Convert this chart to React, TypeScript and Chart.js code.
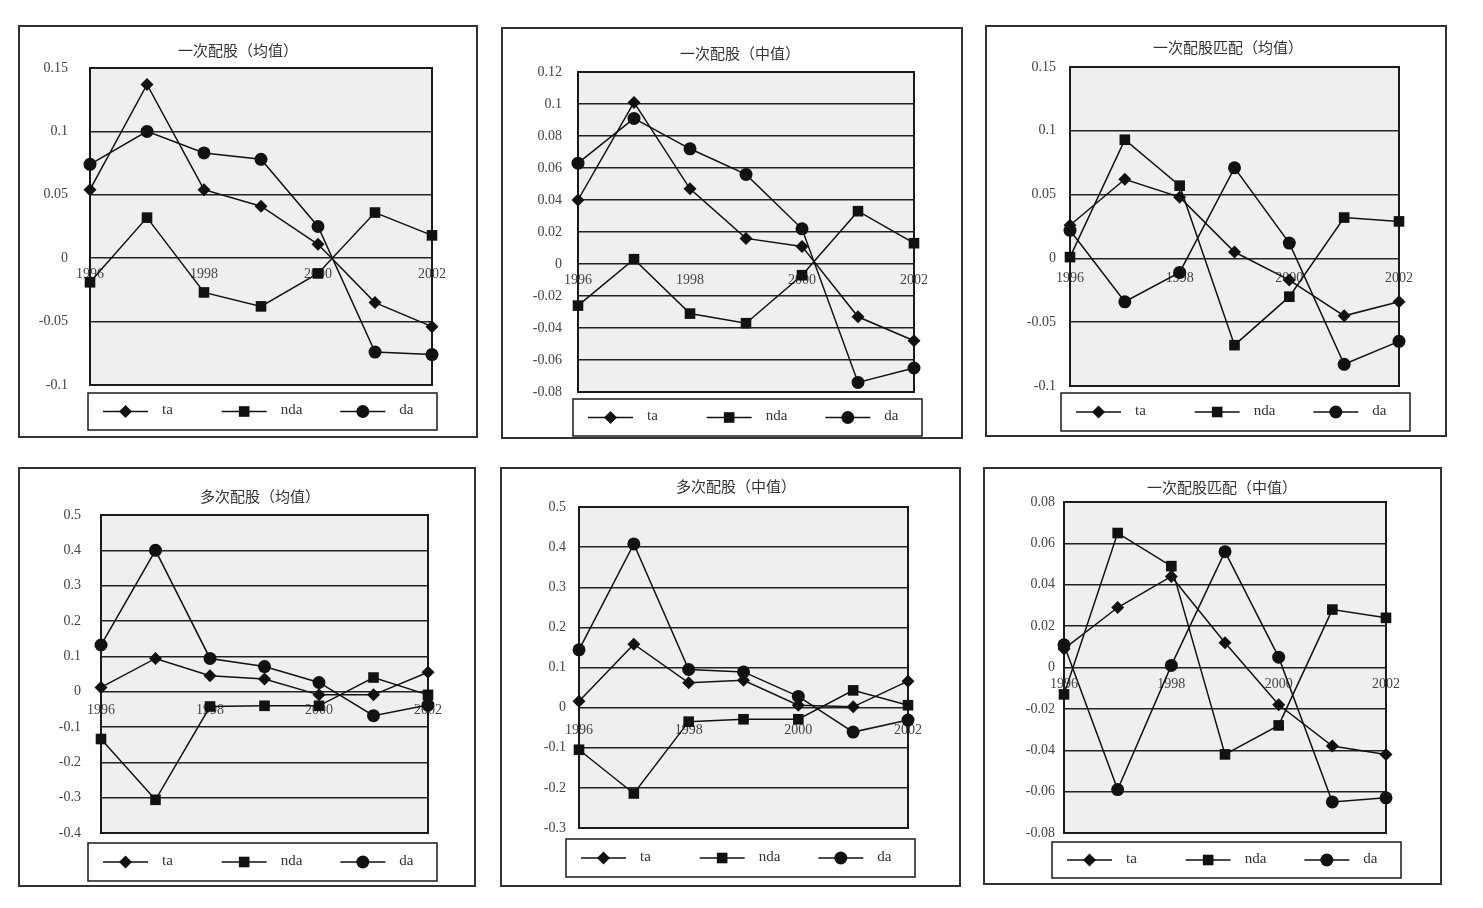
import React, { useEffect, useRef } from 'react';
import { Chart, registerables } from 'chart.js';

Chart.register(...registerables);

// ---------- data ----------
const years = ['1996', '1997', '1998', '1999', '2000', '2001', '2002'];
const seriesNames = ['ta', 'nda', 'da'];

const p1Title = '一次配股（均值）';
const p1Ta = [0.054, 0.137, 0.054, 0.041, 0.011, -0.035, -0.054];
const p1Nda = [-0.019, 0.032, -0.027, -0.038, -0.012, 0.036, 0.018];
const p1Da = [0.074, 0.1, 0.083, 0.078, 0.025, -0.074, -0.076];
const p1Axis = [-0.1, 0.15, 0.05];

const p2Title = '一次配股（中值）';
const p2Ta = [0.04, 0.101, 0.047, 0.016, 0.011, -0.033, -0.048];
const p2Nda = [-0.026, 0.003, -0.031, -0.037, -0.007, 0.033, 0.013];
const p2Da = [0.063, 0.091, 0.072, 0.056, 0.022, -0.074, -0.065];
const p2Axis = [-0.08, 0.12, 0.02];

const p3Title = '一次配股匹配（均值）';
const p3Ta = [0.026, 0.062, 0.048, 0.005, -0.017, -0.045, -0.034];
const p3Nda = [0.001, 0.093, 0.057, -0.068, -0.03, 0.032, 0.029];
const p3Da = [0.022, -0.034, -0.011, 0.071, 0.012, -0.083, -0.065];
const p3Axis = [-0.1, 0.15, 0.05];

const p4Title = '多次配股（均值）';
const p4Ta = [0.012, 0.094, 0.045, 0.036, -0.009, -0.009, 0.055];
const p4Nda = [-0.134, -0.306, -0.042, -0.04, -0.04, 0.04, -0.009];
const p4Da = [0.132, 0.4, 0.094, 0.071, 0.026, -0.068, -0.038];
const p4Axis = [-0.4, 0.5, 0.1];

const p5Title = '多次配股（中值）';
const p5Ta = [0.016, 0.158, 0.062, 0.068, 0.006, 0.002, 0.066];
const p5Nda = [-0.105, -0.214, -0.035, -0.029, -0.029, 0.043, 0.006];
const p5Da = [0.144, 0.408, 0.095, 0.089, 0.028, -0.061, -0.031];
const p5Axis = [-0.3, 0.5, 0.1];

const p6Title = '一次配股匹配（中值）';
const p6Ta = [0.009, 0.029, 0.044, 0.012, -0.018, -0.038, -0.042];
const p6Nda = [-0.013, 0.065, 0.049, -0.042, -0.028, 0.028, 0.024];
const p6Da = [0.011, -0.059, 0.001, 0.056, 0.005, -0.065, -0.063];
const p6Axis = [-0.08, 0.08, 0.02];

// ---------- layout (page pixels) ----------
// box: [l, t, r, b], plot: [l, t, r, b], legend: [l, t, r, b], title centre, tick gaps
const layouts = [
  { box: [18, 25, 478, 438], plot: [90, 68, 432, 385], legend: [88, 393, 437, 430], title: [238, 52], yGap: 22, xGap: 8 },
  { box: [501, 27, 963, 439], plot: [578, 72, 914, 392], legend: [573, 399, 922, 436], title: [740, 55], yGap: 16, xGap: 8 },
  { box: [985, 25, 1447, 437], plot: [1070, 67, 1399, 386], legend: [1061, 393, 1410, 431], title: [1228, 49], yGap: 14, xGap: 12 },
  { box: [18, 467, 476, 887], plot: [101, 515, 428, 833], legend: [88, 843, 437, 881], title: [260, 498], yGap: 20, xGap: 10 },
  { box: [500, 467, 961, 887], plot: [579, 507, 908, 828], legend: [566, 839, 915, 877], title: [736, 488], yGap: 13, xGap: 14 },
  { box: [983, 467, 1442, 885], plot: [1064, 502, 1386, 833], legend: [1052, 842, 1401, 878], title: [1222, 489], yGap: 9, xGap: 8 },
];

const panels = [
  { title: p1Title, series: [p1Ta, p1Nda, p1Da], axis: p1Axis },
  { title: p2Title, series: [p2Ta, p2Nda, p2Da], axis: p2Axis },
  { title: p3Title, series: [p3Ta, p3Nda, p3Da], axis: p3Axis },
  { title: p4Title, series: [p4Ta, p4Nda, p4Da], axis: p4Axis },
  { title: p5Title, series: [p5Ta, p5Nda, p5Da], axis: p5Axis },
  { title: p6Title, series: [p6Ta, p6Nda, p6Da], axis: p6Axis },
];

const FONT = "'Liberation Serif', 'Noto Sans CJK SC', serif";
const INK = '#111';
const BORDER = 2;
const pointStyles = ['rectRot', 'rect', 'circle'];
const pointRadii = [6.5, 7.5, 6.5];

function fmt(v: number) {
  const r = Math.round(v * 1000) / 1000;
  if (r === 0) return '0';
  return String(r);
}

function drawMarker(ctx: CanvasRenderingContext2D, style: string, x: number, y: number, r: number) {
  ctx.beginPath();
  if (style === 'rectRot') {
    ctx.moveTo(x - r, y);
    ctx.lineTo(x, y - r);
    ctx.lineTo(x + r, y);
    ctx.lineTo(x, y + r);
    ctx.closePath();
  } else if (style === 'rect') {
    const s = r * Math.SQRT1_2;
    ctx.rect(x - s, y - s, 2 * s, 2 * s);
  } else {
    ctx.arc(x, y, r, 0, Math.PI * 2);
  }
  ctx.fill();
}

const decoPlugin = {
  id: 'deco',
  beforeDraw(chart: any) {
    const { ctx, chartArea: a } = chart;
    ctx.save();
    ctx.fillStyle = '#efefef';
    ctx.fillRect(a.left, a.top, a.right - a.left, a.bottom - a.top);
    ctx.restore();
  },
  beforeDatasetsDraw(chart: any) {
    const { ctx, chartArea: a } = chart;
    ctx.save();
    ctx.strokeStyle = '#1a1a1a';
    ctx.lineWidth = 2;
    ctx.strokeRect(a.left, a.top, a.right - a.left, a.bottom - a.top);
    ctx.restore();
  },
  afterDraw(chart: any, _args: any, opts: any) {
    const { ctx } = chart;
    ctx.save();
    // title
    ctx.fillStyle = '#333';
    ctx.font = `15px ${FONT}`;
    ctx.textAlign = 'center';
    ctx.textBaseline = 'middle';
    ctx.fillText(opts.title, opts.titleX, opts.titleY);
    // legend box
    const [l, t, r, b] = opts.legend;
    ctx.strokeStyle = '#1a1a1a';
    ctx.lineWidth = 1.5;
    ctx.strokeRect(l, t, r - l, b - t);
    const cy = (t + b) / 2;
    const w = r - l;
    chart.data.datasets.forEach((ds: any, i: number) => {
      const x0 = l + 15 + i * w * 0.34;
      ctx.strokeStyle = INK;
      ctx.lineWidth = 1.5;
      ctx.beginPath();
      ctx.moveTo(x0, cy);
      ctx.lineTo(x0 + 45, cy);
      ctx.stroke();
      ctx.fillStyle = INK;
      drawMarker(ctx, pointStyles[i], x0 + 22.5, cy, pointRadii[i]);
      ctx.fillStyle = '#333';
      ctx.font = `15px ${FONT}`;
      ctx.textAlign = 'left';
      ctx.textBaseline = 'middle';
      ctx.fillText(ds.label, x0 + 59, cy - 1);
    });
    ctx.restore();
  },
};

function Panel({ idx }: { idx: number }) {
  const ref = useRef<HTMLCanvasElement>(null);
  const lay = layouts[idx];
  const p = panels[idx];
  const [bl, bt, br, bb] = lay.box;
  const cw = br - bl - 2 * BORDER;
  const ch = bb - bt - 2 * BORDER;
  const ox = bl + BORDER;
  const oy = bt + BORDER;

  useEffect(() => {
    const [pl, pt, pr, pb] = lay.plot;
    const [min, max, step] = p.axis;
    const chart = new Chart(ref.current as HTMLCanvasElement, {
      type: 'line',
      data: {
        labels: years,
        datasets: p.series.map((s, i) => ({
          label: seriesNames[i],
          data: s,
          borderColor: INK,
          borderWidth: 1.5,
          backgroundColor: INK,
          pointBackgroundColor: INK,
          pointBorderColor: INK,
          pointBorderWidth: 0,
          pointStyle: pointStyles[i] as any,
          pointRadius: pointRadii[i],
          tension: 0,
          clip: false as any,
        })),
      },
      options: {
        animation: false,
        responsive: false,
        devicePixelRatio: 1,
        events: [],
        layout: {
          padding: { left: 0, top: pt - oy, right: ox + cw - pr, bottom: oy + ch - pb },
        },
        plugins: {
          legend: { display: false },
          tooltip: { enabled: false },
          title: { display: false },
          deco: {
            title: p.title,
            titleX: lay.title[0] - ox,
            titleY: lay.title[1] - oy,
            legend: [lay.legend[0] - ox, lay.legend[1] - oy, lay.legend[2] - ox, lay.legend[3] - oy],
          },
        } as any,
        scales: {
          x: {
            type: 'category',
            position: { y: 0 } as any,
            offset: false,
            grid: { display: false, drawTicks: false },
            border: { display: false },
            ticks: {
              autoSkip: false,
              maxRotation: 0,
              padding: lay.xGap,
              color: '#444',
              font: { family: FONT, size: 14 },
              callback: function (this: any, value: any, index: number) {
                return index % 2 === 0 ? this.getLabelForValue(value) : '';
              },
            },
          },
          y: {
            min,
            max,
            ticks: {
              stepSize: step,
              padding: lay.yGap,
              color: '#444',
              font: { family: FONT, size: 14 },
              callback: (v: any) => fmt(Number(v)),
            },
            grid: { color: '#222', lineWidth: 1.5, drawTicks: false },
            border: { display: false },
            afterFit: (s: any) => {
              s.width = pl - ox;
            },
          },
        },
      },
      plugins: [decoPlugin],
    });
    return () => chart.destroy();
  }, []);

  return (
    <div
      style={{
        position: 'absolute',
        left: bl,
        top: bt,
        width: br - bl,
        height: bb - bt,
        boxSizing: 'border-box',
        border: `${BORDER}px solid #333`,
        background: '#fff',
      }}
    >
      <canvas ref={ref} width={cw} height={ch} style={{ display: 'block', width: cw, height: ch }} />
    </div>
  );
}

export default function App() {
  return (
    <div style={{ position: 'absolute', left: 0, top: 0, width: 1483, height: 908, background: '#fff' }}>
      {panels.map((_, i) => (
        <Panel key={i} idx={i} />
      ))}
    </div>
  );
}
